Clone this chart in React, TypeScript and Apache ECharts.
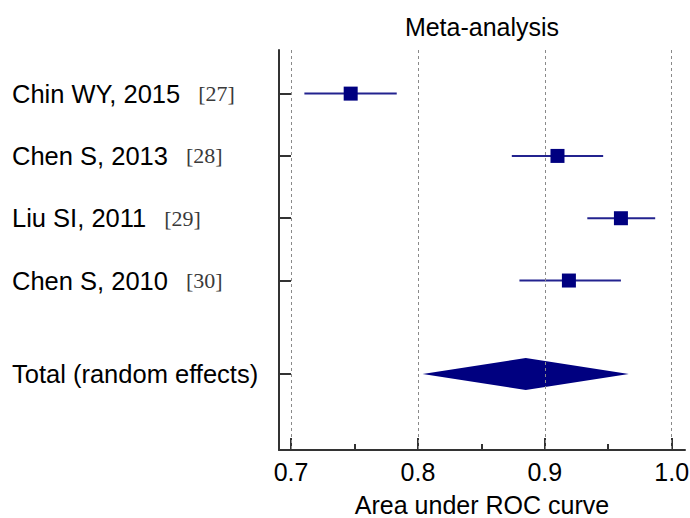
import React, { useEffect, useRef } from "react";
import * as echarts from "echarts";

const studies = ["Chin WY, 2015", "Chen S, 2013", "Liu SI, 2011", "Chen S, 2010"];
const refs = ["[27]", "[28]", "[29]", "[30]"];
const rowPos = [1, 2, 3, 4];
const estimates = [0.747, 0.910, 0.960, 0.919];
const lowerCI = [0.7105, 0.874, 0.9335, 0.880];
const upperCI = [0.7833, 0.946, 0.987, 0.960];

const totalLabel = "Total (random effects)";
const totalPos = 5.5;
const totalEst = 0.885;
const totalLower = 0.8037;
const totalUpper = 0.9662;

const xTicks = [0.7, 0.8, 0.9, 1.0];
const xMinorTicks = [0.75, 0.85, 0.95];

const SANS = "'Liberation Sans', Arial, Helvetica, sans-serif";
const SERIF = "'Liberation Serif', 'Times New Roman', serif";
const NAVY = "#000080";

export default function App() {
  const ref = useRef<HTMLDivElement>(null);

  useEffect(() => {
    if (!ref.current) return;
    const chart = echarts.init(ref.current, undefined, { renderer: "svg" });

    const yValues = [...rowPos, totalPos];
    const labelFor = (v: number) => {
      const i = rowPos.indexOf(v);
      if (i >= 0) return `{n|${studies[i]}}{r|${refs[i]}}`;
      if (v === totalPos) return `{n|${totalLabel}}`;
      return "";
    };

    chart.setOption({
      animation: false,
      backgroundColor: "#ffffff",
      grid: {
        left: 279,
        right: 5,
        top: 50,
        bottom: 68,
        containLabel: false,
        outerBoundsMode: "none",
      },
      graphic: [
        {
          type: "text",
          x: 482,
          y: 14,
          style: {
            text: "Meta-analysis",
            textAlign: "center",
            textVerticalAlign: "top",
            fontSize: 25,
            fontFamily: SANS,
            fill: "#000",
          },
        },
      ],
      xAxis: [
        {
          type: "value",
          min: 0.6905,
          max: 1.0105,
          position: "bottom",
          name: "Area under ROC curve",
          nameLocation: "middle",
          nameGap: 42,
          nameTextStyle: { fontSize: 25, fontFamily: SANS, color: "#000" },
          axisLine: { show: true, lineStyle: { color: "#333", width: 2 } },
          axisTick: {
            show: true,
            inside: true,
            length: 12,
            customValues: xTicks,
            lineStyle: { color: "#333", width: 2 },
          },
          axisLabel: {
            show: true,
            customValues: xTicks,
            formatter: (v: number) => v.toFixed(1),
            fontSize: 25,
            fontFamily: SANS,
            color: "#000",
            margin: 9,
          },
          splitLine: { show: false },
        },
        {
          type: "value",
          min: 0.6905,
          max: 1.0105,
          position: "bottom",
          axisLine: { show: false },
          axisTick: {
            show: true,
            inside: true,
            length: 6,
            customValues: xMinorTicks,
            lineStyle: { color: "#333", width: 2 },
          },
          axisLabel: { show: false },
          splitLine: { show: false },
        },
      ],
      yAxis: {
        type: "value",
        inverse: true,
        min: 0.3,
        max: 6.72,
        axisLine: { show: true, lineStyle: { color: "#333", width: 2 } },
        axisTick: {
          show: true,
          inside: true,
          length: 12,
          customValues: yValues,
          lineStyle: { color: "#333", width: 2 },
        },
        axisLabel: {
          show: true,
          customValues: yValues,
          align: "left",
          margin: 267,
          formatter: (v: number) => labelFor(v),
          rich: {
            n: { fontSize: 25.5, fontFamily: SANS, color: "#000" },
            r: { fontSize: 22, fontFamily: SERIF, color: "#3a3a3a", padding: [0, 0, 0, 18] },
          },
        },
        splitLine: { show: false },
      },
      series: [
        {
          type: "custom",
          name: "ci",
          xAxisIndex: 0,
          data: rowPos.map((y, i) => [lowerCI[i], upperCI[i], y]),
          encode: { x: [0, 1], y: 2 },
          renderItem: (params: any, api: any) => {
            const a = api.coord([api.value(0), api.value(2)]);
            const b = api.coord([api.value(1), api.value(2)]);
            return {
              type: "line",
              shape: { x1: a[0], y1: a[1], x2: b[0], y2: b[1] },
              style: { stroke: "#23238f", lineWidth: 2 },
            };
          },
          markLine: {
            silent: true,
            symbol: "none",
            label: { show: false },
            lineStyle: { color: "#8a8a8a", width: 1, type: [3, 3] },
            data: xTicks.map((v) => ({ xAxis: v })),
          },
          z: 2,
        },
        {
          type: "scatter",
          name: "est",
          xAxisIndex: 0,
          data: rowPos.map((y, i) => [estimates[i], y]),
          symbol: "rect",
          symbolSize: 14,
          itemStyle: { color: NAVY, opacity: 1 },
          z: 3,
        },
        {
          type: "custom",
          name: "total",
          xAxisIndex: 0,
          data: [[totalLower, totalEst, totalUpper, totalPos]],
          encode: { x: [0, 1, 2], y: 3 },
          renderItem: (params: any, api: any) => {
            const y = api.value(3);
            const l = api.coord([api.value(0), y]);
            const m = api.coord([api.value(1), y]);
            const u = api.coord([api.value(2), y]);
            const h = 16;
            return {
              type: "polygon",
              shape: {
                points: [
                  [l[0], l[1]],
                  [m[0], m[1] - h],
                  [u[0], u[1]],
                  [m[0], m[1] + h],
                ],
              },
              style: { fill: NAVY },
            };
          },
          z: 3,
        },
      ],
    });

    return () => chart.dispose();
  }, []);

  return (
    <div
      ref={ref}
      style={{ position: "fixed", left: 0, top: 0, width: 690, height: 518, background: "#fff" }}
    />
  );
}
